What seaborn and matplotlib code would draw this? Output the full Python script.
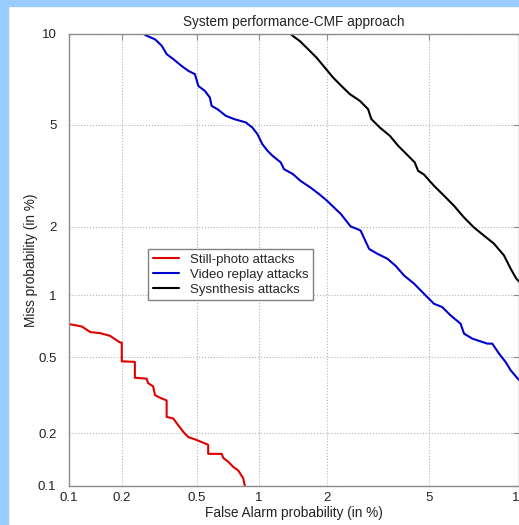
import numpy as np
import seaborn as sns
import matplotlib
matplotlib.use("Agg")
import matplotlib.pyplot as plt
from matplotlib.patches import Rectangle
from statistics import NormalDist

# DET curves, false alarm / miss probability in %
photo_fa = [0.1, 0.119, 0.133, 0.151, 0.172, 0.196, 0.20, 0.20, 0.236, 0.236, 0.273, 0.278,
            0.296, 0.303, 0.322, 0.349, 0.349, 0.378, 0.394, 0.426, 0.451, 0.498, 0.569,
            0.569, 0.663, 0.676, 0.714, 0.755, 0.798, 0.842, 0.858]
photo_miss = [0.73, 0.71, 0.667, 0.66, 0.64, 0.593, 0.593, 0.478, 0.475, 0.394, 0.39, 0.37,
              0.356, 0.32, 0.31, 0.30, 0.245, 0.24, 0.226, 0.203, 0.19, 0.183, 0.172,
              0.153, 0.153, 0.145, 0.138, 0.129, 0.123, 0.111, 0.1]

video_fa = [0.262, 0.268, 0.303, 0.329, 0.349, 0.378, 0.418, 0.452, 0.488, 0.508, 0.548, 0.58,
            0.592, 0.632, 0.695, 0.762, 0.866, 0.93, 0.982, 1.036, 1.093, 1.152, 1.257,
            1.30, 1.42, 1.54, 1.70, 1.853, 2.0, 2.21, 2.285, 2.51, 2.67, 2.755, 2.98, 3.21,
            3.51, 3.77, 4.06, 4.42, 4.81, 5.22, 5.59, 5.98, 6.47, 6.65, 7.09, 7.94, 8.24,
            8.66, 9.08, 9.42, 9.81, 10.2]
video_miss = [10.2, 9.93, 9.63, 9.2, 8.66, 8.35, 7.93, 7.65, 7.46, 6.82, 6.56, 6.23,
              5.83, 5.68, 5.38, 5.24, 5.1, 4.89, 4.63, 4.25, 4.02, 3.85, 3.63,
              3.42, 3.28, 3.08, 2.90, 2.73, 2.57, 2.34, 2.27, 2.01, 1.96, 1.93, 1.61, 1.535,
              1.46, 1.36, 1.23, 1.13, 1.015, 0.912, 0.879, 0.803, 0.733, 0.656, 0.62, 0.586, 0.586,
              0.523, 0.475, 0.431, 0.398, 0.37]

synth_fa = [1.38, 1.406, 1.53, 1.663, 1.807, 1.96, 2.125, 2.30, 2.49, 2.735, 2.95, 3.04,
            3.28, 3.59, 3.86, 4.15, 4.45, 4.58, 4.81, 5.22, 5.67, 6.14, 6.65, 7.18,
            7.74, 8.34, 8.98, 9.42, 9.81, 10.2]
synth_miss = [10.2, 9.93, 9.51, 8.97, 8.44, 7.84, 7.27, 6.82, 6.40, 6.07, 5.68, 5.24,
              4.89, 4.56, 4.19, 3.90, 3.63, 3.37, 3.26, 2.95, 2.69, 2.45, 2.19, 1.99,
              1.84, 1.70, 1.51, 1.32, 1.19, 1.12]

series_labels = ["Still-photo attacks", "Video replay attacks", "Sysnthesis attacks"]
series_colors = ["#dd0000", "#0000cc", "#000000"]

ticks = [0.1, 0.2, 0.5, 1, 2, 5, 10]
tick_labels = ["0.1", "0.2", "0.5", "1", "2", "5", "10"]

# normal deviate scale, as in a DET plot
nd = NormalDist()
_ppf = np.vectorize(lambda p: nd.inv_cdf(min(max(p / 100.0, 1e-9), 1 - 1e-9)), otypes=[float])
_cdf = np.vectorize(lambda z: 100.0 * nd.cdf(z), otypes=[float])


def probit(p):
    return _ppf(np.asarray(p, dtype=float))


def unprobit(z):
    return _cdf(np.asarray(z, dtype=float))


sns.set_style("white")
plt.rcParams["font.family"] = ["Liberation Sans", "DejaVu Sans"]

fig = plt.figure(figsize=(5.19, 5.25), dpi=100, facecolor="white")
blue = "#99ccff"
fig.patches.append(Rectangle((0, 0), 8 / 519, 1, transform=fig.transFigure, color=blue, zorder=0))
fig.patches.append(Rectangle((0, 1 - 6 / 525), 1, 6 / 525, transform=fig.transFigure, color=blue, zorder=0))

ax = fig.add_axes([69 / 519, 1 - 486 / 525, 450 / 519, 452 / 525])

data = [(photo_fa, photo_miss), (video_fa, video_miss), (synth_fa, synth_miss)]
for (fa, miss), lab, col in zip(data, series_labels, series_colors):
    sns.lineplot(x=fa, y=miss, ax=ax, color=col, lw=1.5, label=lab,
                 sort=False, estimator=None)

ax.set_xscale("function", functions=(probit, unprobit))
ax.set_yscale("function", functions=(probit, unprobit))
ax.set_xlim(0.1, 10)
ax.set_ylim(0.1, 10)
ax.set_xticks(ticks, tick_labels)
ax.set_yticks(ticks, tick_labels)

ax.grid(True, ls=":", color="#b4b4b4", lw=0.8)
for s in ax.spines.values():
    s.set_color("#8c8c8c")
    s.set_linewidth(1.0)
ax.tick_params(axis="both", direction="in", top=True, right=True, length=4,
               color="#8c8c8c", labelsize=9.5, labelcolor="#222222")
ax.tick_params(axis="x", pad=4)
ax.tick_params(axis="y", pad=9)

ax.set_title("System performance-CMF approach", fontsize=9.8, color="#222222", pad=6)
ax.set_xlabel("False Alarm probability (in %)", fontsize=9.8, color="#222222", labelpad=2)
ax.set_ylabel("Miss probability (in %)", fontsize=9.8, color="#222222", labelpad=0)

ax.legend(loc="lower left", bbox_to_anchor=(0.176, 0.411), borderaxespad=0,
          frameon=True, fancybox=False, edgecolor="#808080", fontsize=9.5,
          handlelength=2.0, borderpad=0.35, labelspacing=0.2, handletextpad=0.8,
          framealpha=1)

fig.savefig("out.png", dpi=100, facecolor=fig.get_facecolor())
